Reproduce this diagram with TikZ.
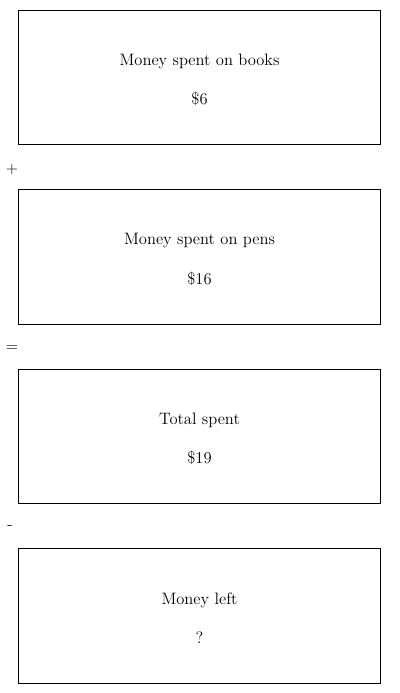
\documentclass[tikz,border=0pt]{standalone}
\usepackage{tikz}
\usetikzlibrary{positioning}

\newcommand{\boxstrut}{\rule{0pt}{12.2pt}}

\begin{document}
\begin{tikzpicture}[
    x=0.75pt, y=-0.75pt,
    box/.style={draw, line width=0.6pt, minimum width=272pt,
                minimum height=101pt, align=center,
                font=\fontsize{12.4}{14}\selectfont},
    op/.style={font=\fontsize{12}{14}\selectfont, inner sep=0pt},
    node distance=33pt
  ]
  \useasboundingbox (0,0) rectangle (400,693);
  \node[box] (books) at (199.5,77.5) {\boxstrut Money spent on books\\[15.5pt]\$6};
  \node[box, below=of books] (pens) {\boxstrut Money spent on pens\\[15.5pt]\$16};
  \node[box, below=of pens] (total) {\boxstrut Total spent\\[15.5pt]\$19};
  \node[box, below=of total] (left) {\boxstrut Money left\\[15.5pt]?};

  \node[op] (plus) at (12,170) {+};
  \node[op] (equals) at (12,349) {=};
  \node[op] (minus) at (10,528) {-};
\end{tikzpicture}
\end{document}
